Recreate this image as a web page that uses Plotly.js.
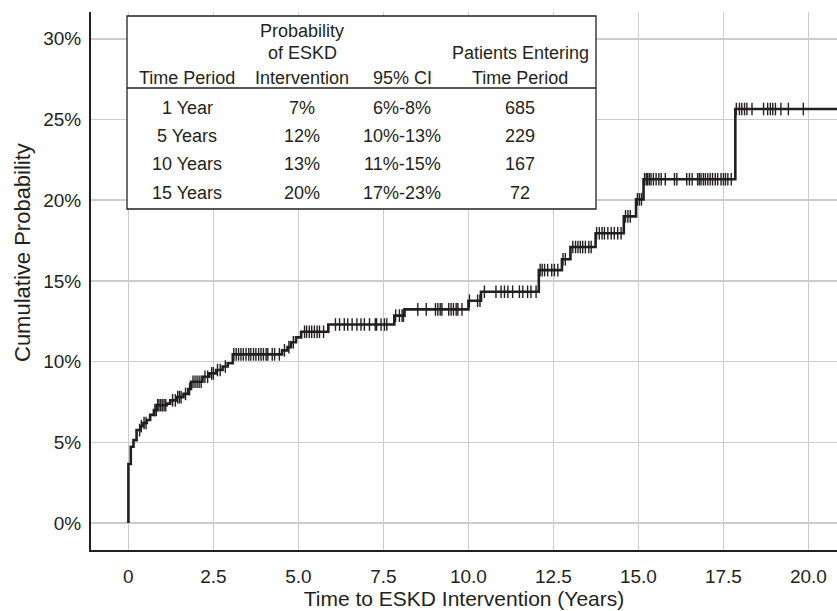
<!DOCTYPE html>
<html><head><meta charset="utf-8">
<script src="https://cdn.plot.ly/plotly-3.0.1.min.js"></script>
<style>html,body{margin:0;padding:0;background:#fff}#chart{width:837px;height:611px}</style>
</head><body><div id="chart"></div>
<script>
// Kaplan-Meier cumulative probability step data (years, %)
const stepTimes = [0, 0, 0.07, 0.15, 0.24, 0.36, 0.44, 0.54, 0.64, 0.75,
  0.83, 1.13, 1.23, 1.42, 1.62, 1.76, 1.84, 2.18, 2.38, 2.58,
  2.77, 2.92, 3.07, 4.52, 4.68, 4.78, 4.93, 5.08, 5.88, 7.82,
  8.12, 10.0, 10.37, 12.07, 12.75, 13.0, 13.74, 14.57, 14.93, 15.15,
  17.85, 20.9];
const stepProbs = [0, 3.66, 4.73, 5.14, 5.76, 6.0, 6.2, 6.38, 6.7, 7.0,
  7.3, 7.4, 7.6, 7.8, 8.0, 8.3, 8.75, 9.06, 9.27, 9.48,
  9.7, 9.9, 10.45, 10.7, 10.9, 11.2, 11.5, 11.85, 12.3, 12.85,
  13.24, 13.77, 14.33, 15.67, 16.34, 17.1, 17.95, 19.0, 20.05, 21.3,
  25.65, 25.65];
// censored observation times (years)
const censorTimes = [0.33, 0.38, 0.46, 0.52, 0.78, 0.82, 0.86, 0.9, 0.95, 1.0, 1.05, 1.1,
  1.3, 1.38, 1.45, 1.5, 1.55, 1.68, 1.8, 1.9, 1.96, 2.02, 2.08, 2.14, 2.25, 2.33, 2.45, 2.5, 2.62, 2.7, 2.85,
  3.1, 3.17, 3.24, 3.31, 3.38, 3.46, 3.54, 3.6, 3.68, 3.75, 3.83, 3.9, 3.97, 4.05, 4.1, 4.23, 4.3, 4.44, 4.59, 4.72, 4.85,
  5.18, 5.24, 5.32, 5.39, 5.47, 5.55, 5.62, 5.74,
  6.09, 6.21, 6.35, 6.45, 6.58, 6.72, 6.84, 6.94, 7.09, 7.26, 7.3, 7.43, 7.53, 7.6,
  7.86, 7.97, 8.05, 8.09,
  8.51, 8.76, 9.03, 9.1, 9.17, 9.22, 9.42, 9.49, 9.56, 9.64, 9.69, 9.81,
  10.03, 10.27, 10.34,
  10.47, 10.81, 10.96, 11.06, 11.16, 11.3, 11.5, 11.6, 11.74, 11.84, 11.99,
  12.11, 12.17, 12.24, 12.33, 12.45, 12.53, 12.63, 12.78, 12.85,
  13.07, 13.15, 13.22, 13.29, 13.36, 13.44, 13.54, 13.61,
  13.77, 13.85, 13.93, 14.0, 14.1, 14.2, 14.29, 14.39, 14.49,
  14.62, 14.69, 14.76, 14.97, 15.03, 15.09,
  15.18, 15.23, 15.27, 15.32, 15.37, 15.44, 15.52, 15.6, 15.67, 15.79, 16.06, 16.13, 16.42, 16.5, 16.58,
  16.74, 16.79, 16.84, 16.91, 16.97, 17.04, 17.11, 17.18, 17.26, 17.33, 17.43, 17.5, 17.56, 17.63, 17.73,
  17.88, 17.97, 18.04, 18.12, 18.19, 18.34, 18.68, 18.8, 18.88, 18.95, 19.03, 19.19, 19.41, 19.85];

const xTickVals = [0, 2.5, 5, 7.5, 10, 12.5, 15, 17.5, 20];
const xTickText = ['0', '2.5', '5.0', '7.5', '10.0', '12.5', '15.0', '17.5', '20.0'];
const yTickVals = [0, 5, 10, 15, 20, 25, 30];
const yTickText = ['0%', '5%', '10%', '15%', '20%', '25%', '30%'];

// inset table
const timePeriods = ['1 Year', '5 Years', '10 Years', '15 Years'];
const probEskd = ['7%', '12%', '13%', '20%'];
const ci95 = ['6%-8%', '10%-13%', '11%-15%', '17%-23%'];
const patientsEntering = ['685', '229', '167', '72'];

const INK = '#231f20';
const FONT = 'Liberation Sans, Arial, Helvetica, sans-serif';

function stepAt(t) {
  let v = stepProbs[0];
  for (let i = 0; i < stepTimes.length; i++) { if (stepTimes[i] <= t) v = stepProbs[i]; }
  return v;
}

// pixel -> paper helpers for layout decoration
const L = 91, R = 837, T = 12, B = 550;
const px = p => (p - L) / (R - L);
const py = p => (B - p) / (B - T);

const traces = [
  {x: stepTimes, y: stepProbs, type: 'scatter', mode: 'lines',
   line: {shape: 'hv', color: INK, width: 2.6}, hoverinfo: 'skip', showlegend: false},
  {x: censorTimes, y: censorTimes.map(stepAt), type: 'scatter', mode: 'markers',
   marker: {symbol: 'line-ns-open', size: 9, color: INK, line: {color: INK, width: 1.4}},
   hoverinfo: 'skip', showlegend: false}
];

const ann = [];
function txt(x, y, s, size) {
  ann.push({xref: 'paper', yref: 'paper', x: px(x), y: py(y), text: s, showarrow: false,
    xanchor: 'center', yanchor: 'middle', font: {family: FONT, size: size || 18, color: INK}});
}
const colX = [187, 302, 402, 520];
txt(colX[1], 31, 'Probability');
txt(colX[1], 53, 'of ESKD');
txt(colX[0], 78, 'Time Period');
txt(colX[1], 78, 'Intervention');
txt(colX[2], 78, '95% CI');
txt(colX[3], 53, 'Patients Entering');
txt(colX[3], 78, 'Time Period');
const rowY = [108, 136, 164, 193];
for (let i = 0; i < timePeriods.length; i++) {
  txt(colX[0], rowY[i], timePeriods[i]);
  txt(colX[1], rowY[i], probEskd[i]);
  txt(colX[2], rowY[i], ci95[i]);
  txt(colX[3], rowY[i], patientsEntering[i]);
}
// y axis title
ann.push({xref: 'paper', yref: 'paper', x: px(22), y: py(253), text: 'Cumulative Probability',
  textangle: -90, showarrow: false, xanchor: 'center', yanchor: 'middle',
  font: {family: FONT, size: 22, color: INK}});

const layout = {
  width: 837, height: 611,
  margin: {l: L, r: 837 - R, t: T, b: 611 - B},
  paper_bgcolor: '#fff', plot_bgcolor: '#fff',
  font: {family: FONT, color: INK},
  xaxis: {range: [-1.10, 20.84], tickvals: xTickVals, ticktext: xTickText,
    showgrid: true, gridcolor: '#cccccc', gridwidth: 1.5, zeroline: false,
    showline: true, linecolor: INK, linewidth: 2, ticks: '', ticklabelstandoff: 8,
    tickfont: {family: FONT, size: 19, color: INK},
    title: {text: 'Time to ESKD Intervention (Years)', font: {family: FONT, size: 21, color: INK}, standoff: 6}},
  yaxis: {range: [-1.67, 31.66], tickvals: yTickVals, ticktext: yTickText,
    showgrid: true, gridcolor: '#cccccc', gridwidth: 1.5, zeroline: false,
    showline: true, linecolor: INK, linewidth: 2, ticks: '', ticklabelstandoff: 4,
    tickfont: {family: FONT, size: 19, color: INK}},
  shapes: [
    {type: 'rect', xref: 'paper', yref: 'paper', x0: px(127), x1: px(596), y0: py(209), y1: py(16),
     fillcolor: '#ffffff', line: {color: INK, width: 1.3}, layer: 'above'},
    {type: 'line', xref: 'paper', yref: 'paper', x0: px(127), x1: px(596), y0: py(88), y1: py(88),
     line: {color: INK, width: 1.3}, layer: 'above'}
  ],
  annotations: ann
};

Plotly.newPlot('chart', traces, layout, {staticPlot: true, displayModeBar: false});
</script>
</body></html>
